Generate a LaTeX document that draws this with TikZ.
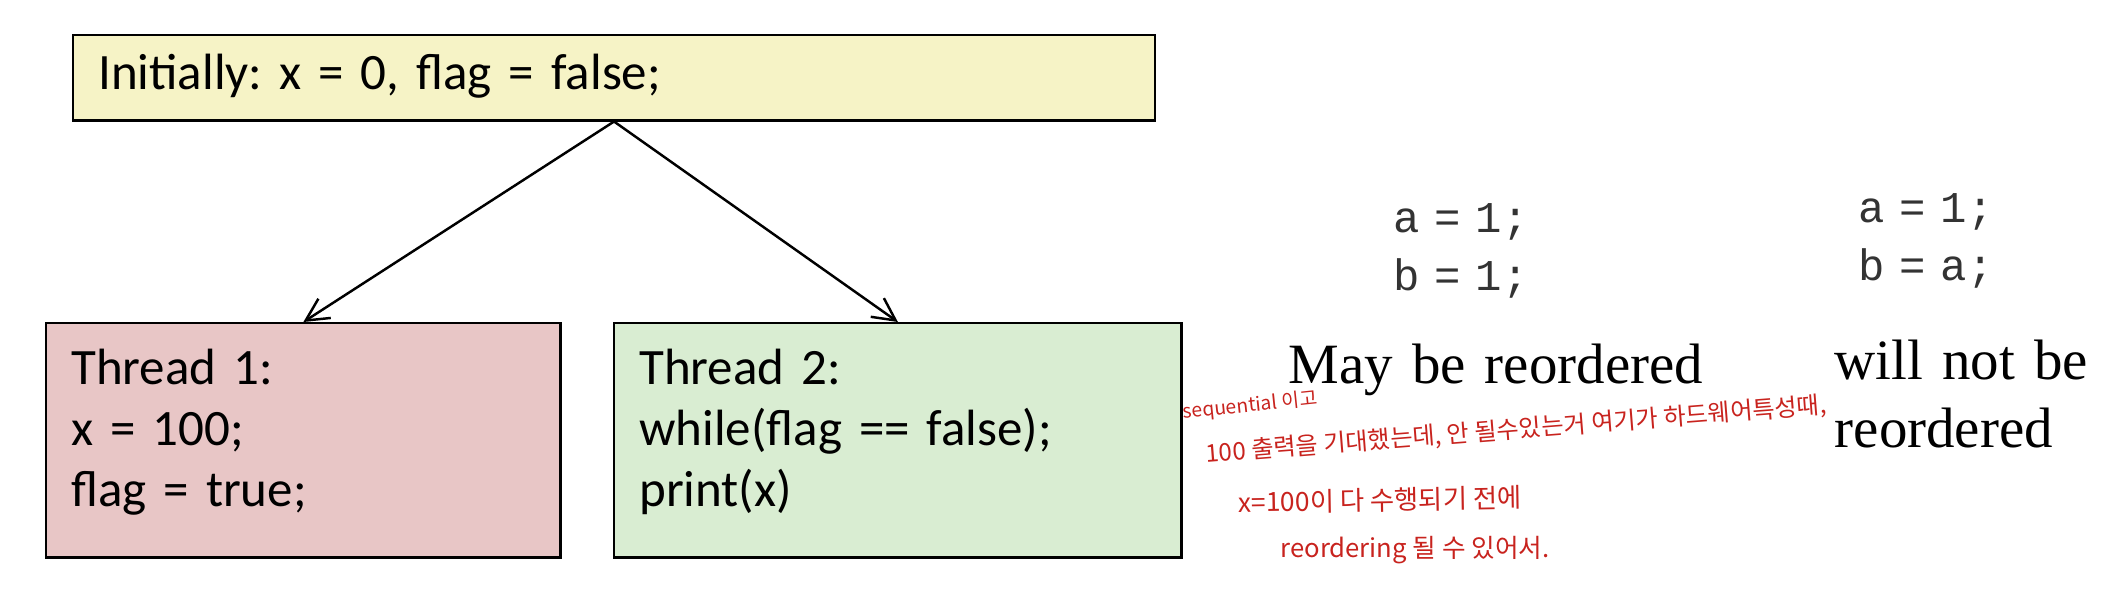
\documentclass[tikz,border=0pt]{standalone}
\usepackage{fontspec}
\setmainfont{Liberation Serif}
\newfontfamily\calibri{Carlito}[WordSpace=0.65]
\newfontfamily\courier{Liberation Mono}[WordSpace=1.35]
\newfontfamily\hangul{Noto Sans CJK KR}
\usetikzlibrary{arrows.meta}
\definecolor{initfill}{RGB}{246,243,198}
\definecolor{tonefill}{RGB}{232,198,198}
\definecolor{ttwofill}{RGB}{217,237,210}
\definecolor{pen}{RGB}{200,35,30}
\frenchspacing

\begin{document}
\begin{tikzpicture}[x=0.01cm, y=-0.01cm,
  codebox/.style={draw=black, line width=0.7pt, anchor=north west,
    inner xsep=0.25cm, inner ysep=0pt, font=\calibri\fontsize{14.5}{17.4}\selectfont},
  snippet/.style={anchor=base west, text width=4cm, inner sep=0pt,
    text=black!80, font=\courier\fontsize{12.5}{16.5}\selectfont},
  remark/.style={anchor=base west, text width=5cm, inner sep=0pt,
    font=\fontsize{16.2}{19.4}\selectfont},
  scribble/.style={text=pen, inner sep=0pt, font=\hangul},
  flow/.style={-{Straight Barb[length=6.4pt,width=6.5pt]}, line width=0.7pt}]
  \useasboundingbox (0,0) rectangle (2122,608);

  \node[codebox, fill=initfill, text width=10.31cm, text height=0.54cm, text depth=0.31cm]
    (init) at (72,34) {Initially: x = 0, flag = false;};
  \node[codebox, fill=tonefill, text width=4.64cm, text height=0.61cm, text depth=1.73cm]
    (tone) at (45,322) {Thread 1:\\x = 100;\\flag = true;};
  \node[codebox, fill=ttwofill, text width=5.17cm, text height=0.61cm, text depth=1.73cm]
    (ttwo) at (613,322) {Thread 2:\\while(flag == false);\\print(x)};

  \draw[flow] (init.south) -- (tone.north);
  \draw[flow] (init.south) -- (ttwo.north);

  \node[snippet] (indep) at (1393,232) {a = 1;\\b = 1;};
  \node[snippet] (dep) at (1858,222) {a = 1;\\b = a;};
  \node[remark] (may) at (1288,383) {May be reordered};
  \node[remark, font=\fontsize{16.2}{19.35}\selectfont] (wont) at (1834,379) {will not be\\reordered};

  \node[scribble, rotate=6, font=\hangul\fontsize{5.5}{6}\selectfont] (note1) at (1250,406) {sequential 이고};
  \node[scribble, rotate=4.5, font=\hangul\fontsize{6.9}{8}\selectfont] (note2) at (1516,430)
    {100 출력을 기대했는데, 안 될수있는거 여기가 하드웨어특성때,};
  \node[scribble, rotate=1, font=\hangul\fontsize{7.5}{8}\selectfont] (note3) at (1380,500) {x=100이 다 수행되기 전에};
  \node[scribble, font=\hangul\fontsize{7.3}{8}\selectfont] (note4) at (1415,550) {reordering 될 수 있어서.};
\end{tikzpicture}
\end{document}
